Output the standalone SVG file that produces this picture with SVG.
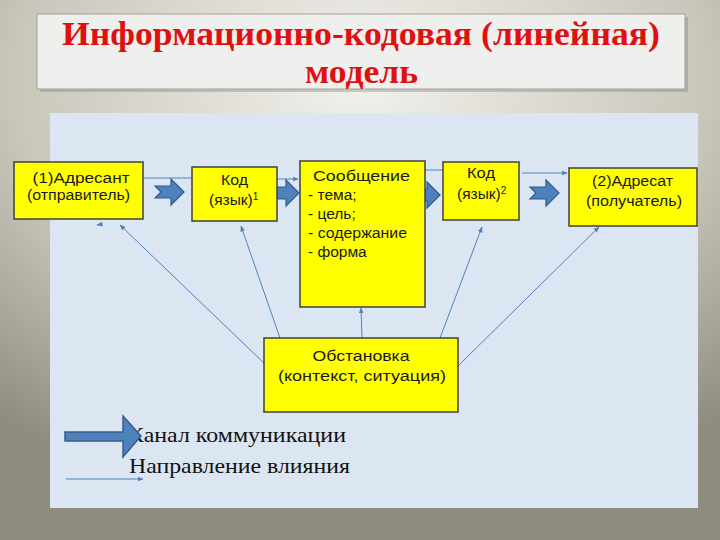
<svg xmlns="http://www.w3.org/2000/svg" width="720" height="540" viewBox="0 0 720 540">
<defs>
<radialGradient id="bg" cx="50%" cy="15%" r="80%">
<stop offset="0" stop-color="#f2f1ec"/>
<stop offset="0.6" stop-color="#c9c6bb"/>
<stop offset="1" stop-color="#8f8b7f"/>
</radialGradient>
<marker id="ah" viewBox="0 0 10 10" refX="9" refY="5" markerWidth="6" markerHeight="6" orient="auto-start-reverse" markerUnits="userSpaceOnUse">
<path d="M0,1 L10,5 L0,9 Z" fill="#4f81bd"/>
</marker>
<polygon id="chev" points="0,7 16,7 16,0 29,13 16,26 16,19 0,19 6,13"/>
</defs>
<style>
.node{fill:#ffff00;stroke:#3f3f3f;stroke-width:1.5}
.t{font-family:"Liberation Sans",Arial,sans-serif;font-size:15.5px;fill:#1a1a1a;text-anchor:middle}
.tl{font-family:"Liberation Sans",Arial,sans-serif;font-size:15.5px;fill:#1a1a1a}
.sup{font-size:10px}
.ln{stroke:#4f81bd;stroke-width:1;fill:none;marker-end:url(#ah)}
.ch{fill:#4f81bd;stroke:#2e5a8c;stroke-width:1.2}
.leg{font-family:"Liberation Serif","Times New Roman",serif;font-size:21px;fill:#111}
.ttl{font-family:"Liberation Serif","Times New Roman",serif;font-weight:bold;font-size:34px;fill:#e01010}
</style>
<rect width="720" height="540" fill="url(#bg)"/>
<rect x="50" y="113" width="648" height="395" fill="#dce6f2"/>
<g id="title">
<rect x="40" y="17" width="648" height="75" fill="#7a7a7a" opacity="0.35"/>
<rect x="37" y="14" width="648" height="75" fill="#efefed" stroke="#a0a0a0" stroke-width="1"/>
<text class="ttl" x="62" y="45" textLength="598" lengthAdjust="spacingAndGlyphs">Информационно-кодовая (линейная)</text>
<text class="ttl" x="305" y="83" textLength="113" lengthAdjust="spacingAndGlyphs">модель</text>
</g>
<g id="connectors">
<line class="ln" x1="143" y1="178" x2="197" y2="178"/>
<line class="ln" x1="277" y1="179" x2="298" y2="179"/>
<line class="ln" x1="413" y1="170" x2="449" y2="170"/>
<line class="ln" x1="522" y1="173" x2="567" y2="173"/>
<line class="ln" x1="266" y1="365" x2="120" y2="225"/>
<line class="ln" x1="280" y1="338" x2="241" y2="226"/>
<line class="ln" x1="362" y1="338" x2="361" y2="308"/>
<line class="ln" x1="440" y1="338" x2="482" y2="227"/>
<line class="ln" x1="458" y1="366" x2="599" y2="227"/>
<line class="ln" x1="103" y1="224" x2="97" y2="225"/>
<use href="#chev" class="ch" x="155" y="179"/>
<use href="#chev" class="ch" x="270" y="180"/>
<use href="#chev" class="ch" x="411" y="182"/>
<use href="#chev" class="ch" x="530" y="180"/>
</g>
<g id="adresant">
<rect class="node" x="14" y="162" width="129" height="57"/>
<text class="t" x="81" y="183" textLength="97" lengthAdjust="spacingAndGlyphs">(1)Адресант</text>
<text class="t" x="78.5" y="200" textLength="103" lengthAdjust="spacingAndGlyphs">(отправитель)</text>
</g>
<g id="kod1">
<rect class="node" x="192" y="167" width="85" height="54"/>
<text class="t" x="234.5" y="185" textLength="27" lengthAdjust="spacingAndGlyphs">Код</text>
<text class="tl" x="209" y="205">(язык)<tspan class="sup" dy="-5">1</tspan></text>
</g>
<g id="soobshchenie">
<rect class="node" x="300" y="161" width="125" height="146"/>
<text class="t" x="361.5" y="181" font-size="16.5" textLength="97" lengthAdjust="spacingAndGlyphs">Сообщение</text>
<text class="tl" x="308" y="200">- тема;</text>
<text class="tl" x="308" y="219">- цель;</text>
<text class="tl" x="308" y="238" textLength="99" lengthAdjust="spacingAndGlyphs">- содержание</text>
<text class="tl" x="308" y="257">- форма</text>
</g>
<g id="kod2">
<rect class="node" x="443" y="162" width="76" height="58"/>
<text class="t" x="481" y="178" textLength="28" lengthAdjust="spacingAndGlyphs">Код</text>
<text class="tl" x="457" y="199">(язык)<tspan class="sup" dy="-5">2</tspan></text>
</g>
<g id="adresat">
<rect class="node" x="569" y="168" width="128" height="58"/>
<text class="t" x="632.5" y="186" textLength="81" lengthAdjust="spacingAndGlyphs">(2)Адресат</text>
<text class="t" x="634" y="206" textLength="96" lengthAdjust="spacingAndGlyphs">(получатель)</text>
</g>
<g id="obstanovka">
<rect class="node" x="264" y="338" width="194" height="74"/>
<text class="t" x="361" y="361" font-size="18" textLength="97" lengthAdjust="spacingAndGlyphs">Обстановка</text>
<text class="t" x="362" y="381" font-size="18" textLength="168" lengthAdjust="spacingAndGlyphs">(контекст, ситуация)</text>
</g>
<g id="legend">
<text class="leg" x="128" y="442" textLength="218" lengthAdjust="spacingAndGlyphs">Канал коммуникации</text>
<text class="leg" x="129" y="473" textLength="221" lengthAdjust="spacingAndGlyphs">Направление влияния</text>
<polygon points="65,432 123,432 123,416 141,436 123,457 123,441 65,441" fill="#4f81bd" stroke="#385d8a" stroke-width="1.5"/>
<line class="ln" x1="66" y1="479" x2="143" y2="479"/>
</g>
</svg>
